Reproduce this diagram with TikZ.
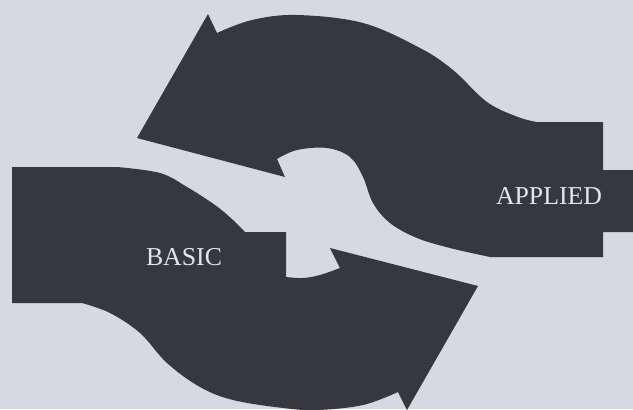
\documentclass[tikz,border=0pt]{standalone}
\usepackage{fontspec}
\setmainfont{Liberation Serif}
\definecolor{paper}{RGB}{214,217,226}
\definecolor{ink}{RGB}{55,55,62}
\definecolor{lettering}{RGB}{228,229,236}
\tikzset{
  bandfill/.style={fill=ink},
  bandlabel/.style={text=lettering, font=\fontsize{22}{25}\selectfont}
}
\begin{document}
\begin{tikzpicture}[x=0.03cm, y=-0.03cm]
  % page
  \fill[paper] (0,0) rectangle (633,409);
  \useasboundingbox (0,0) rectangle (633,409);
  \clip (0,0) rectangle (633,409);
  % upper arrow, from the right back to the left
  \fill[bandfill] (208,14) -- (137,138) -- (285,177) -- (277,159)
    -- plot[smooth, tension=0.6] coordinates {(277,159) (297,150) (327,148) (350,157) (363,177) (373,203) (390,223) (417,238) (450,248) (490,257)}
    -- (603,257) -- (603,232) -- (633,232) -- (633,170) -- (603,170) -- (603,122) -- (537,122)
    -- plot[smooth, tension=0.6] coordinates {(537,122) (518,117) (487,102) (453,70) (420,48) (363,23) (297,15) (252,20) (217,33)}
    -- cycle;
  % lower arrow, from the left on to the right
  \fill[bandfill] (12,167) -- (117,167)
    -- plot[smooth, tension=0.6] coordinates {(117,167) (160,173) (187,187) (215,205) (233,220) (245,232)}
    -- (286,232) -- (286,277)
    -- plot[smooth, tension=0.6] coordinates {(286,277) (303,278) (320,275) (340,268)}
    -- (330,248) -- (478,286) -- (407,410) -- (398,392)
    -- plot[smooth, tension=0.6] coordinates {(398,392) (363,405) (318,410) (283,408) (233,400) (200,387) (167,363) (140,333) (110,313) (82,303)}
    -- (12,303) -- cycle;
  % labels
  \node[bandlabel] (applied) at (549,196) {APPLIED};
  \node[bandlabel] (basic) at (184,257) {BASIC};
\end{tikzpicture}
\end{document}
